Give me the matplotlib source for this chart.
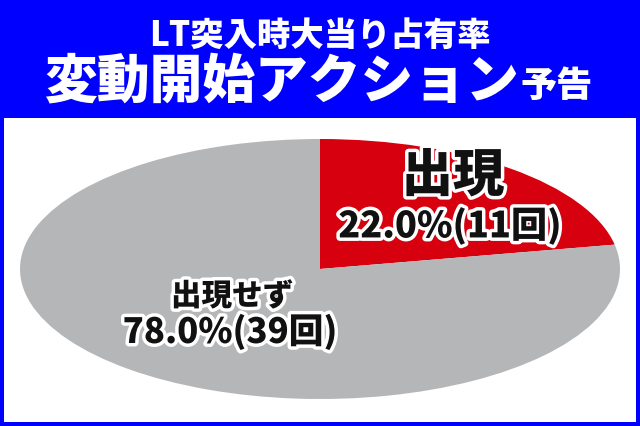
import matplotlib.pyplot as plt
import matplotlib.patheffects as pe
from matplotlib.patches import Rectangle

plt.rcParams['font.family'] = ['Noto Sans CJK JP', 'DejaVu Sans']

# Data
labels = ["出現", "出現せず"]
counts = [11, 39]
colors = ["#D7000F", "#B5B6B8"]
title_line1 = "LT突入時大当り占有率"
title_line2 = "変動開始アクション"
title_suffix = "予告"

total = sum(counts)
W, H = 640, 427

fig = plt.figure(figsize=(6.4, 4.27), dpi=100, facecolor="#0000FF")

# white panel
fig.patches.append(Rectangle((4 / W, 4 / H), 632 / W, (427 - 119 - 4) / H,
                             transform=fig.transFigure, facecolor="white",
                             edgecolor="none", zorder=-5))

# header text
fig.text(320 / W, 1 - 35 / H, title_line1, color="white", fontsize=24,
         fontweight="heavy", ha="center", va="center")
fig.text(519 / W, 1 - 82 / H, title_line2, color="white", fontsize=38,
         fontweight="heavy", ha="right", va="center")
fig.text(521 / W, 1 - 86 / H, title_suffix, color="white", fontsize=26,
         fontweight="heavy", ha="left", va="center")

# elliptical pie
ax = fig.add_axes([20 / W, 27 / H, 600 / W, 260 / H], zorder=2)
ax.pie(counts, colors=colors, startangle=90, counterclock=False,
       wedgeprops=dict(linewidth=0))
ax.set_aspect("auto")
ax.set_xlim(-1, 1)
ax.set_ylim(-1, 1)
ax.axis("off")

stroke = [pe.withStroke(linewidth=5, foreground="white")]

def pct_text(c):
    return f"{c / total * 100:.1f}%({c}回)"

txt = dict(fontweight="heavy", color="#111111", ha="center", va="center",
           path_effects=stroke, zorder=5)
fig.text(453 / W, 1 - 177 / H, labels[0], fontsize=37, **txt)
fig.text(450 / W, 1 - 227 / H, pct_text(counts[0]), fontsize=26, **txt)
fig.text(232 / W, 1 - 297 / H, labels[1], fontsize=22, **txt)
fig.text(230 / W, 1 - 333 / H, pct_text(counts[1]), fontsize=25, **txt)

fig.savefig("out.png", dpi=100, facecolor=fig.get_facecolor())
